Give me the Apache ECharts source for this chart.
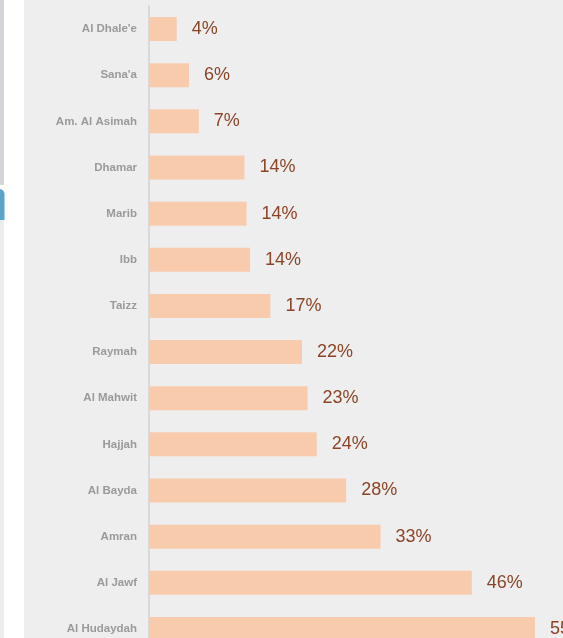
<!DOCTYPE html>
<html>
<head>
<meta charset="utf-8">
<script src="https://cdn.jsdelivr.net/npm/echarts@6/dist/echarts.min.js"></script>
<style>
  html, body { margin: 0; padding: 0; background: #eeeeee; }
  #chart { width: 563px; height: 638px; }
</style>
</head>
<body>
<div id="chart"></div>
<script>
// governorates, top to bottom
var governorates = ['Al Dhale\'e', 'Sana\'a', 'Am. Al Asimah', 'Dhamar', 'Marib', 'Ibb', 'Taizz',
  'Raymah', 'Al Mahwit', 'Hajjah', 'Al Bayda', 'Amran', 'Al Jawf', 'Al Hudaydah']
// share in percent
var shares = [3.95, 5.7, 7.1, 13.6, 13.9, 14.4, 17.3, 21.8, 22.6, 23.9, 28.1, 33.0, 46.0, 55.0]

var chart = echarts.init(document.getElementById('chart'))

var option = {
  backgroundColor: '#eeeeee',
  animation: false,
  // left side panel leftovers
  graphic: [
    { type: 'rect', shape: { x: 0, y: 0, width: 24, height: 638 }, style: { fill: '#ffffff' }, silent: true },
    { type: 'rect', shape: { x: 0, y: 0, width: 4, height: 185 }, style: { fill: '#d3d4d7' }, silent: true },
    { type: 'rect', shape: { x: -10, y: 189, width: 14.5, height: 31, r: [0, 5, 0, 0] }, style: { fill: '#5aa3cd' }, silent: true },
    { type: 'rect', shape: { x: 0, y: 220, width: 4, height: 418 }, style: { fill: '#ececec' }, silent: true }
  ],
  grid: {
    left: 149,
    right: 0,
    top: 6,
    height: 646, // chart is cropped at the bottom
    outerBoundsMode: 'none'
  },
  xAxis: {
    type: 'value',
    min: 0,
    max: 59,
    show: false
  },
  yAxis: {
    type: 'category',
    inverse: true,
    data: governorates,
    axisLine: { show: true, lineStyle: { color: '#d9d9d9', width: 2 } },
    axisTick: { show: false },
    axisLabel: {
      margin: 12,
      color: '#9a9a9a',
      fontFamily: 'Liberation Sans Narrow, Arial Narrow, sans-serif',
      fontWeight: 'bold',
      fontSize: 11.5
    }
  },
  series: [
    {
      type: 'bar',
      data: shares,
      barWidth: 24,
      itemStyle: { color: '#f8cbad' },
      label: {
        show: true,
        position: 'right',
        distance: 15,
        color: '#8b4426',
        fontFamily: 'Liberation Sans, Arial, sans-serif',
        fontSize: 18,
        formatter: function(p) {
          return Math.round(p.value) + '%'
        }
      }
    }
  ]
}

chart.setOption(option)
</script>
</body>
</html>
